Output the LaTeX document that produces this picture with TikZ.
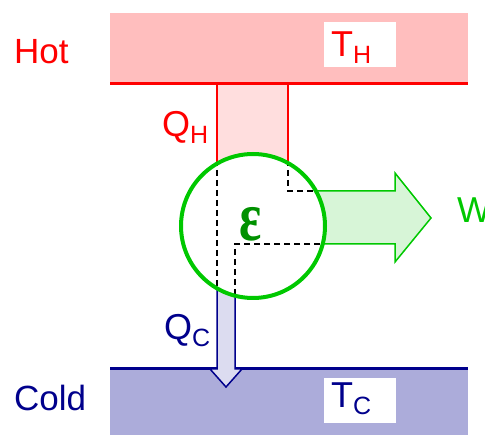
\documentclass[tikz,border=0pt]{standalone}
\usepackage{fontspec}
\setmainfont{Liberation Sans}
\newfontfamily\greekfont{Liberation Serif}
\usepackage{tikz}
\usetikzlibrary{positioning}

\definecolor{hotred}{RGB}{255,0,0}
\definecolor{hotfill}{RGB}{255,190,190}
\definecolor{qhfill}{RGB}{255,222,222}
\definecolor{coldblue}{RGB}{0,0,140}
\definecolor{coldfill}{RGB}{172,172,218}
\definecolor{qcfill}{RGB}{220,220,240}
\definecolor{workgreen}{RGB}{0,200,0}
\definecolor{workfill}{RGB}{215,245,215}
\definecolor{effgreen}{RGB}{0,145,0}

\newcommand{\lowidx}[1]{\raisebox{-7pt}{\fontsize{25}{25}\selectfont #1}}

\begin{document}
\begin{tikzpicture}[x=1pt, y=-1pt,
  lbl/.style={inner sep=0pt, anchor=base west, font=\fontsize{36}{38}\selectfont},
  side/.style={inner sep=0pt, anchor=base west, font=\fontsize{35}{37}\selectfont},
  flow/.style={line width=1.5pt},
  split/.style={line width=2pt, dash pattern=on 6pt off 4pt}
]
\useasboundingbox (0,0) rectangle (485,435);

% reservoirs
\fill[hotfill] (110,13) rectangle (468,84);
\fill[coldfill] (110,369) rectangle (468,435);
\fill[white] (324,22) rectangle (396,67);
\fill[white] (324,378) rectangle (396,423);

% heat in
\fill[qhfill] (217,84) rectangle (288,226);
\draw[flow, hotred] (217,84) -- (217,226) (288,84) -- (288,226);

% work out
\draw[flow, workgreen, fill=workfill] (253,191) -- (395,191) -- (395,173) -- (431,218)
  -- (395,262) -- (395,244) -- (253,244) -- cycle;

% boundary lines
\draw[line width=3pt, hotred] (110,84) -- (468,84);
\draw[line width=3pt, coldblue] (110,369) -- (468,369);

% heat out
\draw[flow, coldblue, fill=qcfill] (217,226) -- (217,369) -- (210,369) -- (226,387)
  -- (242,369) -- (235,369) -- (235,226) -- cycle;

% engine
\coordinate (core) at (253,226);
\fill[white] (core) circle (72);
\begin{scope}
  \clip (core) circle (71);
  \draw[split] (217,150) -- (217,300);
  \draw[split] (288,150) -- (288,191) -- (330,191);
  \draw[split] (330,244) -- (235,244) -- (235,310);
\end{scope}
\draw[line width=4pt, workgreen] (core) circle (72);

% labels
\node[side, text=hotred] (hot) at (14,64) {Hot};
\node[side, text=coldblue] (cold) at (14,411) {Cold};
\node[lbl, text=hotred] (th) at (331,57) {T\lowidx{H}};
\node[lbl, text=coldblue] (tc) at (331,408) {T\lowidx{C}};
\node[lbl, text=hotred] (qh) at (162,137) {Q\lowidx{H}};
\node[lbl, text=coldblue] (qc) at (164,340) {Q\lowidx{C}};
\node[lbl, text=workgreen] (w) at (457,223) {W};
\node[inner sep=0pt, anchor=base, text=effgreen,
  font=\greekfont\bfseries\fontsize{52}{52}\selectfont] (eff) at (251,241)
  {\scalebox{1}[1.35]{ε}};
\end{tikzpicture}
\end{document}
